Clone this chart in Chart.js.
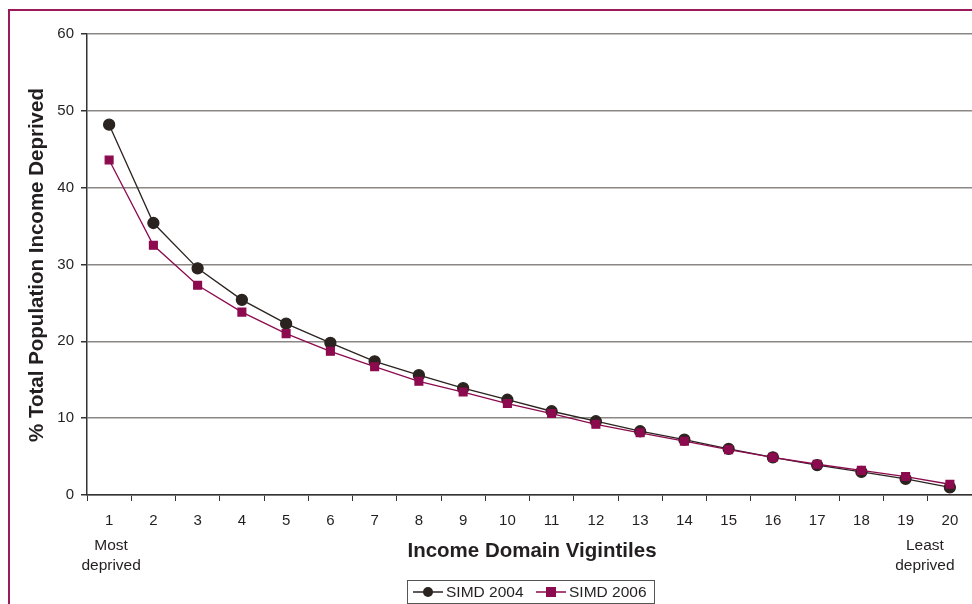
<!DOCTYPE html>
<html><head><meta charset="utf-8">
<script src="https://cdn.jsdelivr.net/npm/chart.js@4/dist/chart.umd.min.js"></script>
<style>html,body{margin:0;padding:0;background:#fff;}#wrap{width:972px;height:604px;position:relative;}</style>
</head><body><div id="wrap"><canvas id="c" width="972" height="604"></canvas></div>
<script>
const categories = ['1','2','3','4','5','6','7','8','9','10','11','12','13','14','15','16','17','18','19','20'];
const simd2004 = [48.2,35.4,29.5,25.4,22.3,19.8,17.4,15.6,13.9,12.4,10.9,9.6,8.3,7.2,6.0,4.9,3.9,3.0,2.1,1.0];
const simd2006 = [43.6,32.5,27.3,23.8,21.0,18.7,16.7,14.8,13.4,11.9,10.6,9.2,8.1,7.0,5.9,4.9,4.0,3.2,2.4,1.4];
const seriesNames = ['SIMD 2004','SIMD 2006'];
const yTitle = '% Total Population Income Deprived';
const xTitle = 'Income Domain Vigintiles';
const leftNote = ['Most','deprived'];
const rightNote = ['Least','deprived'];

const C_BLACK = '#2a231f', C_MAROON = '#8c0a4e', FONT = '"Liberation Sans", Arial, sans-serif', TXT='#231f20';

const extras = {
  id:'extras',
  beforeDraw(chart){
    const ctx = chart.ctx;
    ctx.save();
    ctx.fillStyle='#fff'; ctx.fillRect(0,0,chart.width,chart.height);
    ctx.restore();
  },
  afterDraw(chart){
    const ctx = chart.ctx, xs = chart.scales.x;
    ctx.save();
    ctx.strokeStyle='#9a1a5c'; ctx.lineWidth=2;
    ctx.strokeRect(9,10,990,620);
    ctx.fillStyle=TXT;
    ctx.font='bold 20.5px '+FONT;
    ctx.textAlign='center'; ctx.textBaseline='middle';
    ctx.translate(37,265);
    ctx.rotate(-Math.PI/2);
    ctx.fillText(yTitle,0,0);
    ctx.restore();
    ctx.save();
    ctx.fillStyle=TXT;
    ctx.font='bold 20.5px '+FONT;
    ctx.textAlign='center'; ctx.textBaseline='middle';
    ctx.fillText(xTitle,532,551);
    ctx.font='15.5px '+FONT;
    const x1 = xs.getPixelForValue(0), x20 = xs.getPixelForValue(categories.length-1);
    ctx.fillText(leftNote[0],x1+2,546); ctx.fillText(leftNote[1],x1+2,566);
    ctx.fillText(rightNote[0],x20-25,546); ctx.fillText(rightNote[1],x20-25,566);
    const lx=407, ly=580, lw=247, lh=23;
    ctx.fillStyle='#fff'; ctx.fillRect(lx,ly,lw,lh);
    ctx.strokeStyle='#555'; ctx.lineWidth=1; ctx.strokeRect(lx+0.5,ly+0.5,lw,lh);
    const cy = ly+lh/2+0.5;
    const items=[{x:lx+6,c:C_BLACK,shape:'circle',t:seriesNames[0]},{x:lx+129,c:C_MAROON,shape:'rect',t:seriesNames[1]}];
    items.forEach(it=>{
      ctx.strokeStyle=it.c; ctx.lineWidth=1.5;
      ctx.beginPath(); ctx.moveTo(it.x,cy); ctx.lineTo(it.x+30,cy); ctx.stroke();
      ctx.fillStyle=it.c;
      if(it.shape==='circle'){ctx.beginPath(); ctx.arc(it.x+15,cy,5,0,Math.PI*2); ctx.fill();}
      else ctx.fillRect(it.x+10,cy-5,10,10);
      ctx.fillStyle=TXT; ctx.font='15.5px '+FONT; ctx.textAlign='left';
      ctx.fillText(it.t,it.x+33,cy+1);
    });
    ctx.restore();
  }
};

new Chart(document.getElementById('c'),{
  type:'line',
  data:{labels:categories,datasets:[
    {label:seriesNames[0],data:simd2004,borderColor:C_BLACK,backgroundColor:C_BLACK,borderWidth:1.3,pointStyle:'circle',pointRadius:5.5,pointHoverRadius:5.5,tension:0,order:2,clip:false},
    {label:seriesNames[1],data:simd2006,borderColor:C_MAROON,backgroundColor:C_MAROON,borderWidth:1.3,pointStyle:'rect',pointRadius:5.5,pointHoverRadius:5.5,tension:0,order:1,clip:false}
  ]},
  options:{
    responsive:false,animation:false,
    layout:{autoPadding:false,padding:{left:0,right:0,top:34,bottom:0}},
    plugins:{legend:{display:false},tooltip:{enabled:false}},
    scales:{
      x:{type:'category',offset:true,
        grid:{offset:true,drawOnChartArea:false,drawTicks:true,tickLength:6,color:'#333',lineWidth:1},
        border:{color:'#333',width:1.5},
        ticks:{color:TXT,font:{family:FONT,size:15},padding:11,maxRotation:0,autoSkip:false},
        afterFit(s){s.height=109; s.paddingRight=0; s.paddingLeft=0;}
      },
      y:{min:0,max:60,
        grid:{color:'#8a8784',lineWidth:1.5,tickLength:6,tickColor:'#333'},
        border:{color:'#333',width:1.5},
        ticks:{stepSize:10,color:TXT,font:{family:FONT,size:15},padding:7},
        afterFit(s){s.width=87;}
      }
    }
  },
  plugins:[extras]
});
</script></body></html>
